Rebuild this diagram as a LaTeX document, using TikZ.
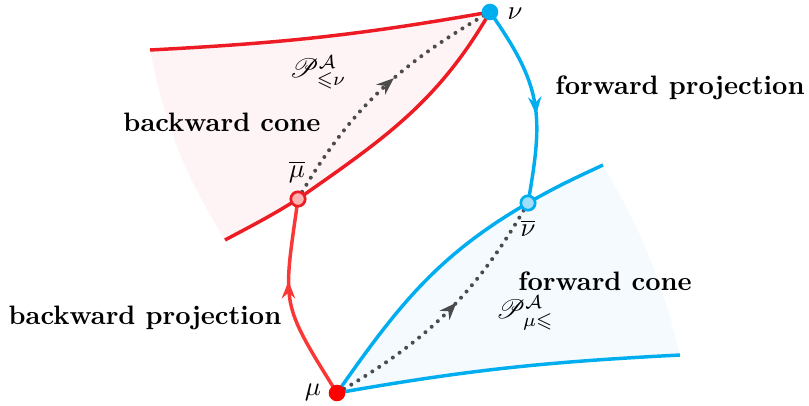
\documentclass[tikz,border=0pt]{standalone}
\usepackage{amssymb}
\usepackage{mathrsfs}
\usetikzlibrary{arrows.meta,decorations.markings}

\definecolor{conered}{RGB}{237,28,36}
\definecolor{projred}{RGB}{250,55,55}
\definecolor{coneblue}{RGB}{0,174,239}
\definecolor{backfill}{RGB}{255,244,245}
\definecolor{fwdfill}{RGB}{244,250,254}
\definecolor{mubarfill}{RGB}{255,178,178}
\definecolor{nubarfill}{RGB}{160,222,250}
\definecolor{dotgray}{RGB}{75,75,75}

\begin{document}
\begin{tikzpicture}[x=0.375pt,y=0.375pt,
    edge/.style={line width=1.3pt},
    midarrow/.style={postaction={decorate},
      decoration={markings,mark=at position #1 with {\arrow{Stealth[length=6.5pt,width=5pt]}}}},
    dotline/.style={draw=dotgray,line width=1.5pt,dash pattern=on 0pt off 3.1pt,line cap=round},
    pointdot/.style={circle,inner sep=0pt,minimum size=6.2pt},
    ringdot/.style={circle,inner sep=0pt,minimum size=5.4pt,line width=1pt},
    conelabel/.style={font=\bfseries}]
    \useasboundingbox (0,0) rectangle (809,406);

    % Puntos
    \coordinate (nu) at (490,394);
    \coordinate (mu) at (337,13);
    \coordinate (mubar) at (298,207);
    \coordinate (nubar) at (528,203);

    % Esquinas de los conos
    \coordinate (btl) at (150,356);
    \coordinate (bbl) at (225,166);
    \coordinate (ftr) at (603,241);
    \coordinate (fbr) at (680,51);

    % Relleno de los conos
    \fill[backfill] (btl) to[out=3,in=190] (nu) to[out=-120,in=35] (mubar)
        to[out=212,in=28] (bbl) to[bend left=10] (btl);
    \fill[fwdfill] (mu) to[out=55,in=210] (nubar) to[out=30,in=205] (ftr)
        to[bend left=8] (fbr) to[out=183,in=10] (mu);

    % Lineas punteadas
    \draw[dotline,midarrow=0.57] (mubar) to[out=60,in=210] (nu);
    \draw[dotline,midarrow=0.55] (mu) to[out=30,in=240] (nubar);

    % Bordes del cono hacia atras
    \draw[edge,conered] (btl) to[out=3,in=190] (nu);
    \draw[edge,conered] (nu) to[out=-120,in=35] (mubar) to[out=212,in=28] (bbl);

    % Bordes del cono hacia adelante
    \draw[edge,coneblue] (mu) to[out=55,in=210] (nubar) to[out=30,in=205] (ftr);
    \draw[edge,coneblue] (mu) to[out=10,in=183] (fbr);

    % Proyecciones
    \draw[edge,coneblue,midarrow=0.56] (nu) to[out=-55,in=80,looseness=1.2] (nubar);
    \draw[edge,projred,midarrow=0.6] (mu) to[out=122,in=-98,looseness=1.4] (mubar);

    % Dibujar los puntos
    \node[pointdot,fill=coneblue] (nudot) at (nu) {};
    \node[pointdot,fill=red] (mudot) at (mu) {};
    \node[ringdot,draw=conered,fill=mubarfill] (mubardot) at (mubar) {};
    \node[ringdot,draw=coneblue,fill=nubarfill] (nubardot) at (nubar) {};

    % Etiquetas
    \node (nulab) at (515,392) {$\nu$};
    \node (mulab) at (313,14) {$\mu$};
    \node (mubarlab) at (297,234) {$\overline{\mu}$};
    \node (nubarlab) at (528,178) {$\overline{\nu}$};
    \node (pback) at (318,334) {$\mathscr{P}^{\mathcal{A}}_{\leqslant\nu}$};
    \node (pfwd) at (525,93) {$\mathscr{P}^{\mathcal{A}}_{\mu\leqslant}$};
    \node[conelabel] (bcone) at (222,284) {backward cone};
    \node[conelabel] (fcone) at (605,125) {forward cone};
    \node[conelabel] (fproj) at (680,318) {forward projection};
    \node[conelabel] (bproj) at (145,88) {backward projection};
\end{tikzpicture}
\end{document}
